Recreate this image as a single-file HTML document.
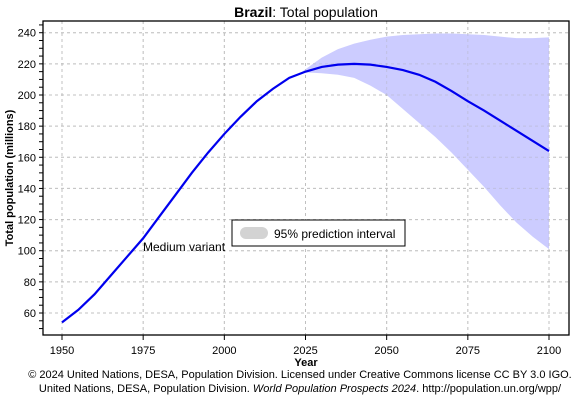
<!DOCTYPE html>
<html><head><meta charset="utf-8"><style>
body{margin:0;background:#fff;width:580px;height:400px;overflow:hidden}
svg{font-family:"Liberation Sans",Arial,sans-serif}
</style></head><body>
<svg id="c" width="580" height="400"></svg>
<script>
const years=[1950,1955,1960,1965,1970,1975,1980,1985,1990,1995,2000,2005,2010,2015,2020,2025,2030,2035,2040,2045,2050,2055,2060,2065,2070,2075,2080,2085,2090,2095,2100];
const medium=[54,62,72,84,96,108,122,136,150,163,175,186,196,204,211,215,218,219.5,220,219.5,218,216,213,208.5,202.5,196,190,183.5,177,170.5,164];
const bandYears=[2023,2025,2030,2035,2040,2045,2050,2055,2060,2065,2070,2075,2080,2085,2090,2095,2100];
const upper=[213.5,216.5,224,229.5,233,235.5,237.5,238.5,239,239.5,239.5,239,238.5,237.5,236.5,236.5,237];
const lower=[213.5,214.5,214,213,211,206,200,191,182,173,163,152,141,129,118,109,101];
const xTicks=[1950,1975,2000,2025,2050,2075,2100];
const yTicks=[60,80,100,120,140,160,180,200,220,240];
const NS="http://www.w3.org/2000/svg";
const svg=document.getElementById('c');
const L=43,T=21,R=569,B=335;
const x=v=>62+(v-1950)*(549-62)/150;
const y=v=>313-(v-60)*(313-95)/140;
function el(t,a,p){const e=document.createElementNS(NS,t);for(const k in a)e.setAttribute(k,a[k]);(p||svg).appendChild(e);return e;}
function txt(s,a){const e=el('text',a);e.textContent=s;return e;}
xTicks.forEach(t=>{const g=el('line',{x1:x(t),x2:x(t),y1:T,y2:B,stroke:'#ccc','stroke-dasharray':'3,3'});

});
yTicks.forEach(t=>{const g=el('line',{x1:L,x2:R,y1:y(t),y2:y(t),stroke:'#ccc','stroke-dasharray':'3,3'});

});
let pts=bandYears.map((yr,i)=>x(yr)+','+y(upper[i]));
for(let i=bandYears.length-1;i>=0;i--)pts.push(x(bandYears[i])+','+y(lower[i]));
const band=el('polygon',{points:pts.join(' '),fill:'#ccccff'});


xTicks.forEach(t=>el('line',{x1:x(t),x2:x(t),y1:T,y2:B,stroke:'#aaa','stroke-opacity':'0.35','stroke-dasharray':'3,3'}));
yTicks.forEach(t=>el('line',{x1:L,x2:R,y1:y(t),y2:y(t),stroke:'#aaa','stroke-opacity':'0.35','stroke-dasharray':'3,3'}));
const ln=el('polyline',{points:years.map((yr,i)=>x(yr)+','+y(medium[i])).join(' '),fill:'none',stroke:'#0000ee','stroke-width':2.2});


const fr=el('rect',{x:L,y:T,width:R-L,height:B-T,fill:'none',stroke:'#000','stroke-width':1.3});


for(let v=50;v<=245;v+=5){el('line',{x1:L-4,x2:L,y1:y(v),y2:y(v),stroke:'#000'});}
yTicks.forEach(t=>{const e=txt(t,{x:L-7,y:y(t)+4,'text-anchor':'end','font-size':'11',fill:'#000'});

});
xTicks.forEach(t=>{el('line',{x1:x(t),x2:x(t),y1:B,y2:B+5,stroke:'#000'});
const e=txt(t,{x:x(t),y:B+19,'text-anchor':'middle','font-size':'11',fill:'#000'});

});
</script>
<svg width="580" height="400" style="position:absolute;left:0;top:0">
<text x="306" y="17" text-anchor="middle" font-size="14"><tspan font-weight="bold">Brazil</tspan>: Total population</text>
<text transform="translate(13,178) rotate(-90)" text-anchor="middle" font-size="11" font-weight="bold">Total population (millions)</text>
<text x="306" y="366" text-anchor="middle" font-size="11" font-weight="bold">Year</text>
<text x="143" y="251" font-size="12">Medium variant</text>
<g>
<rect x="232" y="220" width="173" height="26" fill="#fff" stroke="#000"/>
<rect x="240" y="227" width="28" height="12" rx="6" fill="#d3d3d3"/>
<text x="274" y="238" font-size="12">95% prediction interval</text>
</g>
<text x="300" y="378" text-anchor="middle" font-size="11">© 2024 United Nations, DESA, Population Division. Licensed under Creative Commons license CC BY 3.0 IGO.</text>
<text x="300" y="392" text-anchor="middle" font-size="11">United Nations, DESA, Population Division. <tspan font-style="italic">World Population Prospects 2024</tspan>. http://population.un.org/wpp/</text>
</svg>
</body></html>
